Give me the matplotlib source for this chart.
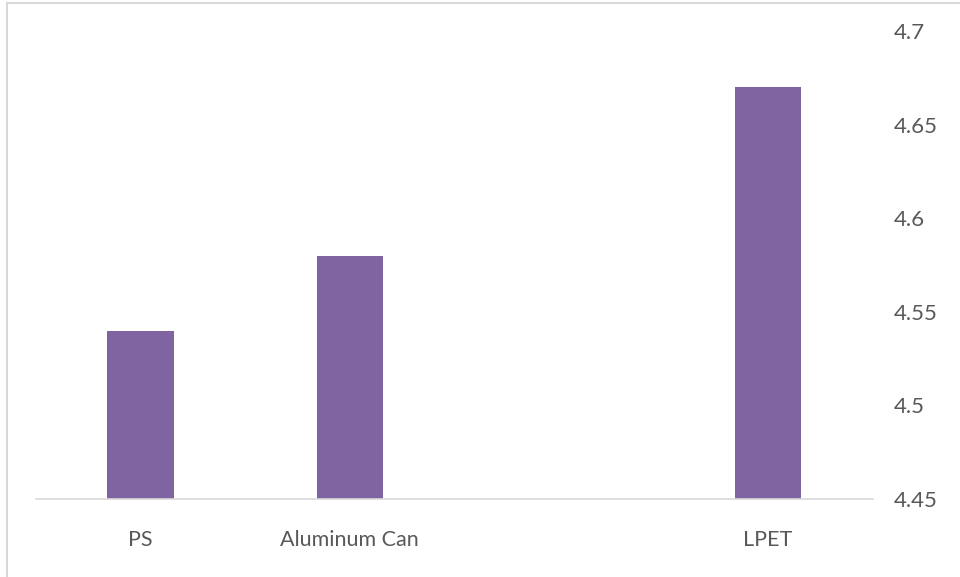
import matplotlib
matplotlib.use("Agg")
import matplotlib.pyplot as plt
from matplotlib.lines import Line2D

categories = ["PS", "Aluminum Can", "", "LPET"]
values = [4.54, 4.58, None, 4.67]
yticks = [4.45, 4.5, 4.55, 4.6, 4.65, 4.7]
ytick_labels = ["4.45", "4.5", "4.55", "4.6", "4.65", "4.7"]

plt.rcParams['font.family'] = ['Lato', 'DejaVu Sans']

fig = plt.figure(figsize=(9.6, 5.77), dpi=100)
ax = fig.add_axes([0.0375, 0.1352, 0.8715, 0.811])

xs = [i for i, v in enumerate(values) if v is not None]
vs = [v for v in values if v is not None]
ax.bar(xs, vs, width=0.317, color="#8064A2")

ax.set_xlim(-0.5, len(categories) - 0.5)
ax.set_ylim(4.45, 4.7)
ax.set_xticks(range(len(categories)))
ax.set_xticklabels(categories)
ax.set_yticks(yticks)
ax.set_yticklabels(ytick_labels)
ax.yaxis.tick_right()
ax.tick_params(axis='y', length=0, pad=15, labelsize=16, labelcolor="#595959")
ax.tick_params(axis='x', length=0, pad=22, labelsize=15.5, labelcolor="#595959")
for s in ["top", "right", "left"]:
    ax.spines[s].set_visible(False)
ax.spines["bottom"].set_color("#D9D9D9")
ax.spines["bottom"].set_linewidth(1.2)

# outer chart border (top and left visible)
fig.add_artist(Line2D([7/960, 7/960], [0, 1 - 3/577], transform=fig.transFigure, color="#D9D9D9", lw=1.5))
fig.add_artist(Line2D([7/960, 1], [1 - 3/577, 1 - 3/577], transform=fig.transFigure, color="#D9D9D9", lw=1.5))

fig.savefig("out.png", dpi=100)
